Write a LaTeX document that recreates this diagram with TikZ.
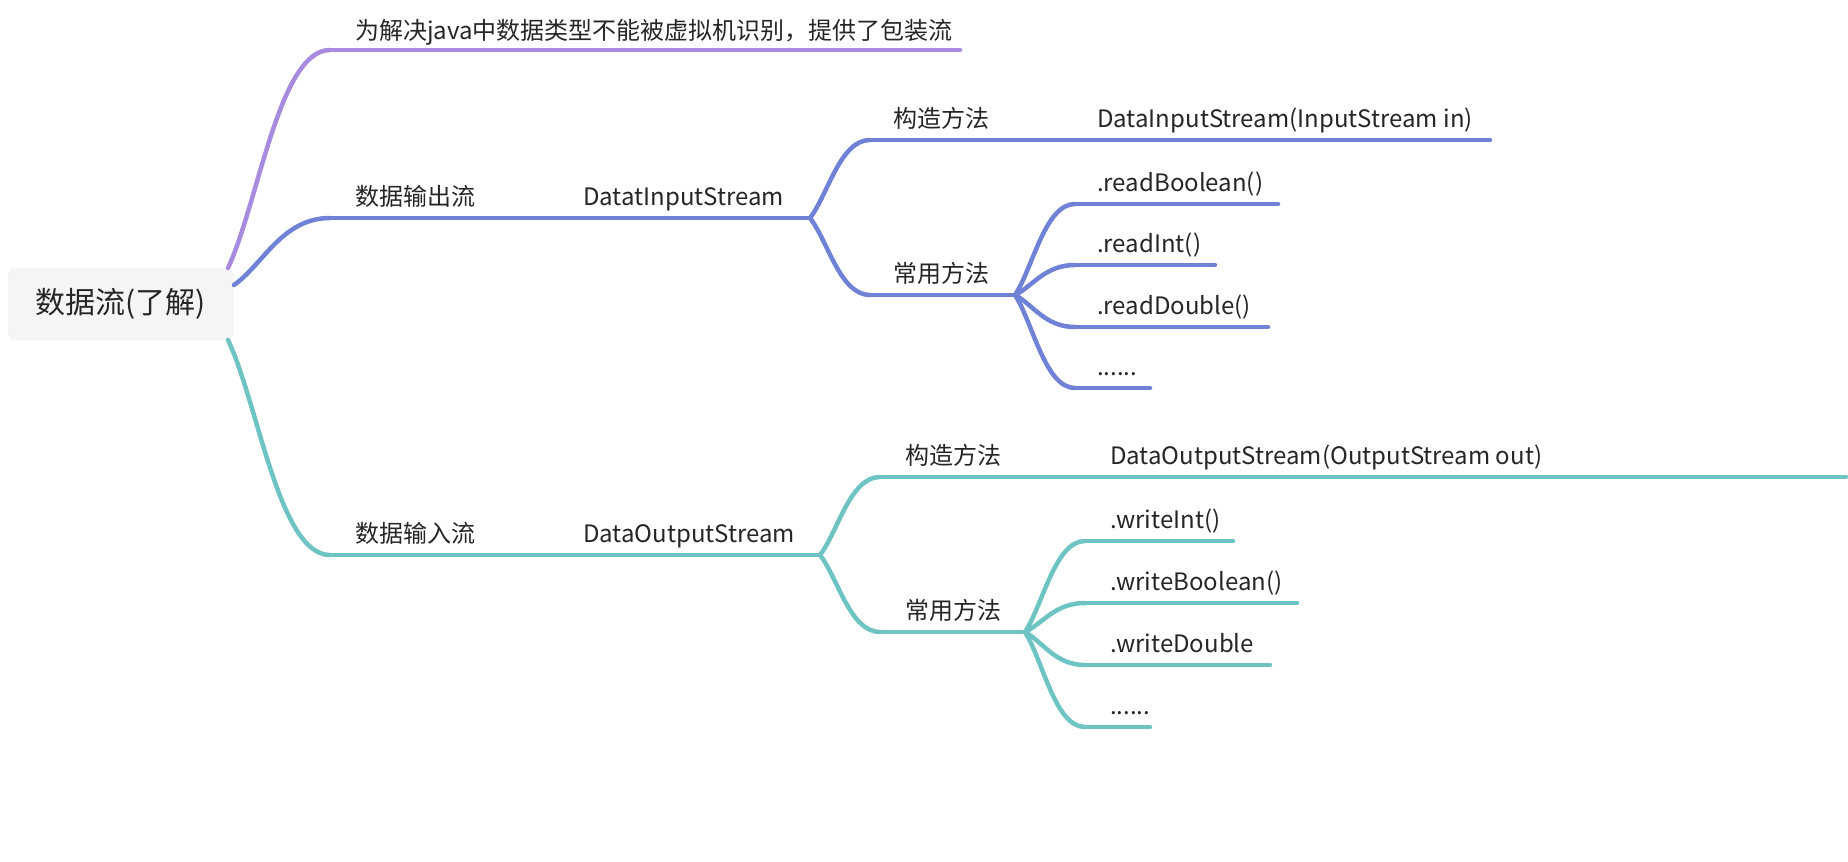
\documentclass[tikz,border=0pt]{standalone}
\usepackage{fontspec}
\setmainfont{Noto Sans CJK SC}
\usetikzlibrary{calc}
\definecolor{cpur}{HTML}{A88BDF}
\definecolor{cblu}{HTML}{7082D6}
\definecolor{ctea}{HTML}{6EC3C3}
\definecolor{ctxt}{HTML}{262626}
\definecolor{croot}{HTML}{F5F5F5}
\tikzset{
  lbl/.style={anchor=base west, inner sep=0pt, text=ctxt, font=\fontsize{24}{28}\selectfont},
  edge/.style={line width=4.5pt, line cap=round},
}
\newcommand\conn[3]{\draw[edge,#1] (#2) .. controls ($(#2)!0.3!(#3)$) and ($(#3)!0.5!(#3 -| #2)$) .. (#3);}
\begin{document}
\begin{tikzpicture}[x=1pt,y=-1pt]
\useasboundingbox (0,0) rectangle (1848,862);
% root
\node[fill=croot, rounded corners=8pt, minimum width=226pt, minimum height=73pt, text=ctxt,
  font=\fontsize{30}{34}\selectfont, inner sep=0pt] (root) at (121,304) {数据流(了解)};
\coordinate (r1) at (228,268);
\coordinate (r2) at (234,285);
\coordinate (r3) at (228,340);
% ---------- purple
\coordinate (p1s) at (330,50); \coordinate (p1e) at (960,50);
\conn{cpur}{r1}{p1s}
\draw[edge,cpur] (p1s) -- (p1e);
\node[lbl] (t1) at (355,39) {为解决java中数据类型不能被虚拟机识别，提供了包装流};
% ---------- blue
\coordinate (b1s) at (330,218); \coordinate (b1e) at (810,218);
\conn{cblu}{r2}{b1s}
\draw[edge,cblu] (b1s) -- (b1e);
\node[lbl] (t2a) at (355,205) {数据输出流};
\node[lbl] (t2b) at (583,205) {DatatInputStream};
\coordinate (b2s) at (870,140); \coordinate (b2e) at (1490,140);
\conn{cblu}{b1e}{b2s}
\draw[edge,cblu] (b2s) -- (b2e);
\node[lbl] (t3a) at (893,127) {构造方法};
\node[lbl] (t3b) at (1097,127) {DataInputStream(InputStream in)};
\coordinate (b3s) at (870,295); \coordinate (b3e) at (1015,295);
\conn{cblu}{b1e}{b3s}
\draw[edge,cblu] (b3s) -- (b3e);
\node[lbl] (t4) at (893,282) {常用方法};
\coordinate (b4s) at (1075,204); \coordinate (b4e) at (1278,204);
\coordinate (b5s) at (1075,265); \coordinate (b5e) at (1215,265);
\coordinate (b6s) at (1075,327); \coordinate (b6e) at (1268,327);
\coordinate (b7s) at (1075,388); \coordinate (b7e) at (1150,388);
\foreach \c in {b4,b5,b6,b7}{\conn{cblu}{b3e}{\c s}\draw[edge,cblu] (\c s) -- (\c e);}
\node[lbl] (t5) at (1097,191) {.readBoolean()};
\node[lbl] (t6) at (1097,252) {.readInt()};
\node[lbl] (t7) at (1097,314) {.readDouble()};
\node[lbl] (t8) at (1097,375) {......};
% ---------- teal
\coordinate (g1s) at (330,555); \coordinate (g1e) at (820,555);
\conn{ctea}{r3}{g1s}
\draw[edge,ctea] (g1s) -- (g1e);
\node[lbl] (u2a) at (355,542) {数据输入流};
\node[lbl] (u2b) at (583,542) {DataOutputStream};
\coordinate (g2s) at (880,477); \coordinate (g2e) at (1846,477);
\conn{ctea}{g1e}{g2s}
\draw[edge,ctea] (g2s) -- (g2e);
\node[lbl] (u3a) at (905,464) {构造方法};
\node[lbl] (u3b) at (1110,464) {DataOutputStream(OutputStream out)};
\coordinate (g3s) at (880,632); \coordinate (g3e) at (1025,632);
\conn{ctea}{g1e}{g3s}
\draw[edge,ctea] (g3s) -- (g3e);
\node[lbl] (u4) at (905,619) {常用方法};
\coordinate (g4s) at (1085,541); \coordinate (g4e) at (1233,541);
\coordinate (g5s) at (1085,603); \coordinate (g5e) at (1297,603);
\coordinate (g6s) at (1085,665); \coordinate (g6e) at (1270,665);
\coordinate (g7s) at (1085,727); \coordinate (g7e) at (1150,727);
\foreach \c in {g4,g5,g6,g7}{\conn{ctea}{g3e}{\c s}\draw[edge,ctea] (\c s) -- (\c e);}
\node[lbl] (u5) at (1110,528) {.writeInt()};
\node[lbl] (u6) at (1110,590) {.writeBoolean()};
\node[lbl] (u7) at (1110,652) {.writeDouble};
\node[lbl] (u8) at (1110,714) {......};
\end{tikzpicture}
\end{document}
